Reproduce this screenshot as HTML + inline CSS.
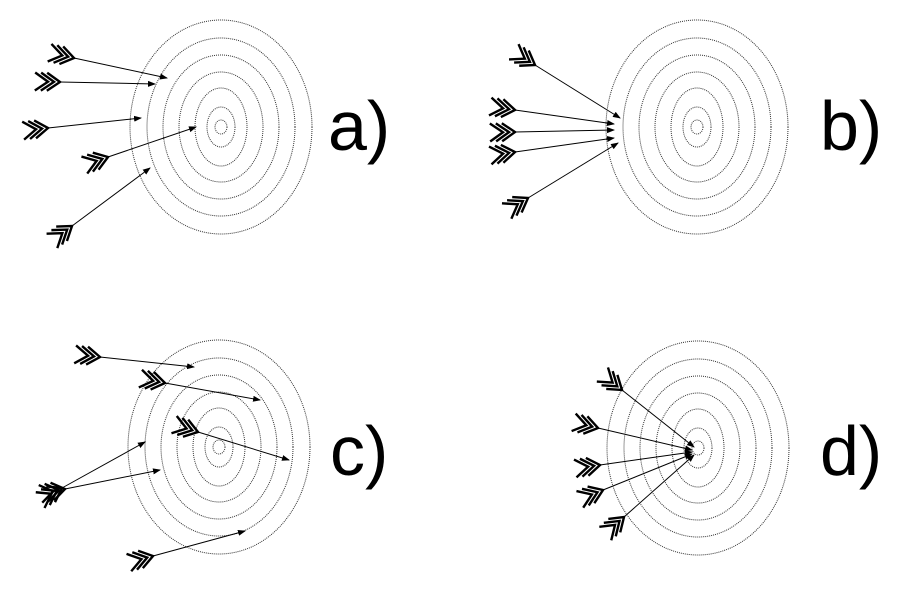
<!DOCTYPE html>
<html><head><style>
html,body{margin:0;padding:0;background:#fff;width:917px;height:603px;overflow:hidden}
svg{display:block}
text{font-family:"Liberation Sans",sans-serif;font-size:70px;fill:#000}
</style></head><body>
<svg id="s" width="917" height="603" viewBox="0 0 917 603" xmlns="http://www.w3.org/2000/svg">
<defs>
<marker id="ah" markerWidth="8" markerHeight="6" refX="7" refY="3" orient="auto" markerUnits="userSpaceOnUse">
<path d="M0,0 L8,3 L0,6 z" fill="#000"/></marker>
<g id="tg" fill="none" stroke="#333" stroke-width="1" stroke-dasharray="1,1">
<ellipse rx="91" ry="107"/><ellipse rx="74" ry="89"/><ellipse rx="58" ry="72"/>
<ellipse rx="42" ry="55"/><ellipse rx="26" ry="39"/><ellipse rx="14" ry="20"/><ellipse rx="6" ry="7"/>
</g>
</defs>
<use href="#tg" x="221" y="127"/>
<use href="#tg" x="697" y="127"/>
<use href="#tg" x="219" y="447"/>
<use href="#tg" x="698" y="448"/>
<text x="328" y="150">a)</text>
<text x="820" y="150">b)</text>
<text x="330" y="475">c)</text>
<text x="820" y="475">d)</text>
<g id="arrows"></g>
</svg>
<script>
var A=[
[74,58,167,78],[60,82,155,84],[48,128,141,118],[108,157,196,127],[72,226,150,168],
[535,65,620,118],[515,110,614,124],[515,132,614,130],[515,152,614,138],[528,198,618,143],
[100,357,194,367],[165,383,260,400],[198,432,289,460],[62,488,145,442],[65,489,160,470],[153,556,245,531],
[622,390,694,447],[598,428,692,450],[600,465,692,452],[603,490,692,454],[624,517,694,455]
];
var g=document.getElementById('arrows'),h='';
A.forEach(function(a){
 var x1=a[0],y1=a[1],x2=a[2],y2=a[3],dx=x2-x1,dy=y2-y1,L=Math.hypot(dx,dy),ux=dx/L,uy=dy/L,px=-uy,py=ux;
 h+='<line x1="'+x1+'" y1="'+y1+'" x2="'+x2+'" y2="'+y2+'" stroke="#000" stroke-width="1" marker-end="url(#ah)"/>';
 for(var k=0;k<3;k++){
  var tx=x1-ux*k*6,ty=y1-uy*k*6;
  var bx=tx-ux*13,by=ty-uy*13;
  h+='<polyline points="'+(bx+px*9)+','+(by+py*9)+' '+tx+','+ty+' '+(bx-px*9)+','+(by-py*9)+'" fill="none" stroke="#000" stroke-width="2.4"/>';
 }
});
g.innerHTML=h;
</script>
</body></html>
